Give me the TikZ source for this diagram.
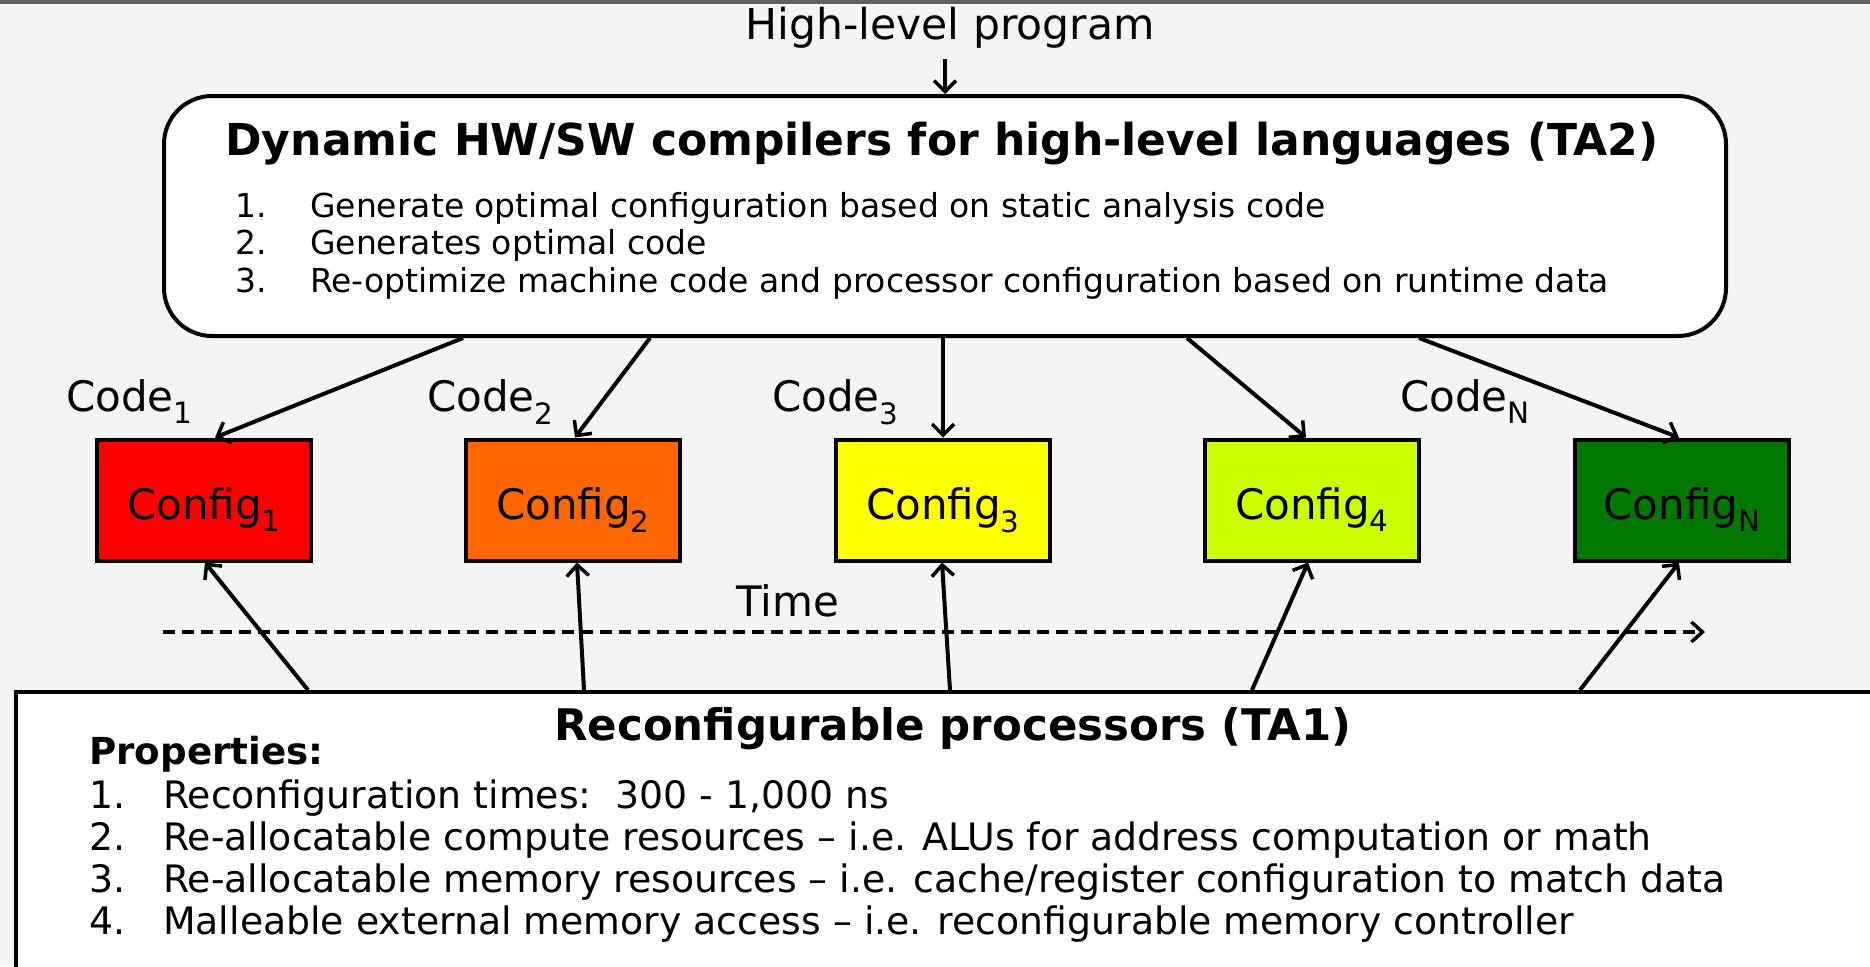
\documentclass[tikz,border=0pt]{standalone}
\usepackage{fontspec}
\setmainfont{DejaVu Sans}
\usetikzlibrary{arrows.meta}
\definecolor{bg}{HTML}{F4F4F4}
\definecolor{cfgred}{HTML}{FF0000}
\definecolor{cfgorange}{HTML}{FF6600}
\definecolor{cfgyellow}{HTML}{FFFF00}
\definecolor{cfglime}{HTML}{CCFF00}
\definecolor{cfggreen}{HTML}{007800}
\begin{document}
\begin{tikzpicture}[x=1pt,y=-1pt,
  txt/.style={inner sep=0pt, anchor=base west},
  cfgbox/.style={draw, line width=4pt, minimum width=214pt, minimum height=121pt, inner sep=0pt,
    text height=38pt, text depth=0pt, font=\fontsize{42}{46}\selectfont},
  arr/.style={line width=4pt, -{Straight Barb[length=11pt,width=22pt,line width=3.5pt]}},
  timeline/.style={line width=4pt, dash pattern=on 12pt off 7pt, -{Straight Barb[length=11pt,width=20pt,line width=3.5pt,line cap=butt]}},
  itemA/.style={txt, font=\fontsize{33}{38}\selectfont},
  itemB/.style={txt, font=\fontsize{37.8}{42}\selectfont},
  lbl/.style={txt, font=\fontsize{42}{46}\selectfont}]
\useasboundingbox (0,0) rectangle (1870,966);
\clip (0,0) rectangle (1870,966);
\fill[bg] (0,0) rectangle (1870,966);
\fill[gray!75!black] (0,0) rectangle (1870,4);

% top label
\node[inner sep=0pt, anchor=base, font=\fontsize{42.5}{46}\selectfont] (hl) at (950,40) {High-level program};

% top box
\node[draw, fill=white, line width=4pt, rounded corners=48pt, anchor=north west,
  minimum width=1562pt, minimum height=240pt] (ta2) at (162,94) {};
\node[inner sep=0pt, anchor=base, font=\bfseries\fontsize{44}{48}\selectfont] (ta2t) at (942,155)
  {Dynamic HW/SW compilers for high-level languages (TA2)};
\node[itemA] (n1) at (235,217) {1.};
\node[itemA] (i1) at (310,217) {Generate optimal configuration based on static analysis code};
\node[itemA] (n2) at (235,254) {2.};
\node[itemA] (i2) at (310,254) {Generates optimal code};
\node[itemA] (n3) at (235,292) {3.};
\node[itemA] (i3) at (310,292) {Re-optimize machine code and processor configuration based on runtime data};

\draw[arr, shorten <=10pt] (hl.south -| ta2.north) -- (ta2.north);

% configs
\node[cfgbox, fill=cfgred]    (c1) at (204,500)  {Config\textsubscript{1}};
\node[cfgbox, fill=cfgorange] (c2) at (573,500)  {Config\textsubscript{2}};
\node[cfgbox, fill=cfgyellow] (c3) at (943,500)  {Config\textsubscript{3}};
\node[cfgbox, fill=cfglime]   (c4) at (1312,500) {Config\textsubscript{4}};
\node[cfgbox, fill=cfggreen]  (cN) at (1682,500) {Config\textsubscript{N}};

% code labels
\node[lbl] (k1) at (66,411)   {Code\textsubscript{1}};
\node[lbl] (k2) at (427,411)  {Code\textsubscript{2}};
\node[lbl] (k3) at (772,411)  {Code\textsubscript{3}};
\node[lbl] (kN) at (1400,411) {Code\textsubscript{N}};

% arrows down
\draw[arr] (463,0 |- ta2.south)  -- ([xshift=11pt]c1.north);
\draw[arr] (650,0 |- ta2.south)  -- ([xshift=2pt]c2.north);
\draw[arr] (943,0 |- ta2.south)  -- (c3.north);
\draw[arr] (1187,0 |- ta2.south) -- ([xshift=-6pt]c4.north);
\draw[arr] (1419,0 |- ta2.south) -- ([xshift=-3pt]cN.north);

% time
\node[lbl] (time) at (736,616) {Time};
\coordinate (t0) at (163,632);
\coordinate (t1) at (1705,632);
\draw[timeline] (t0) -- (t1);

% bottom box
\node[draw, fill=white, line width=4pt, anchor=north west,
  minimum width=1900pt, minimum height=320pt] (ta1) at (14,690) {};

% arrows up
\draw[arr] (308,0 |- ta1.north)  -- ([xshift=1pt]c1.south);
\draw[arr] (584,0 |- ta1.north)  -- ([xshift=4pt]c2.south);
\draw[arr] (950,0 |- ta1.north)  -- ([xshift=-1pt]c3.south);
\draw[arr] (1252,0 |- ta1.north) -- ([xshift=-4pt]c4.south);
\draw[arr] (1580,0 |- ta1.north) -- ([xshift=-3pt]cN.south);

\node[inner sep=0pt, anchor=base, font=\bfseries\fontsize{43.5}{48}\selectfont] (ta1t) at (953,740)
  {Reconfigurable processors (TA1)};
\node[txt, font=\bfseries\fontsize{37.2}{40}\selectfont] (prop) at (89,764) {Properties:};
\node[itemB] (m1) at (89,808) {1.};
\node[itemB] (j1) at (163,808) {Reconfiguration times:\ \ 300 - 1,000 ns};
\node[itemB] (m2) at (89,850) {2.};
\node[itemB] (j2) at (163,850) {Re-allocatable compute resources -- i.e. ALUs for address computation or math};
\node[itemB] (m3) at (89,892) {3.};
\node[itemB] (j3) at (163,892) {Re-allocatable memory resources -- i.e. cache/register configuration to match data};
\node[itemB] (m4) at (89,934) {4.};
\node[itemB] (j4) at (163,934) {Malleable external memory access -- i.e. reconfigurable memory controller};
\end{tikzpicture}
\end{document}
